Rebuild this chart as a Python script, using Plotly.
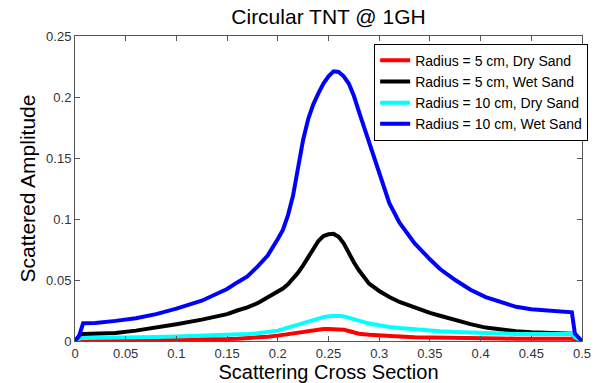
import plotly.graph_objects as go

# ---- data ----
x_vals = [0, 0.004, 0.008, 0.02, 0.04, 0.06, 0.08, 0.1, 0.125,
          0.15, 0.16, 0.17, 0.18, 0.19,
          0.2, 0.205, 0.21, 0.215, 0.22, 0.225, 0.23, 0.235, 0.24, 0.245,
          0.25, 0.255, 0.26, 0.265, 0.27, 0.275, 0.28, 0.29,
          0.3, 0.31, 0.32, 0.335, 0.35, 0.36, 0.375, 0.39,
          0.405, 0.42, 0.435, 0.45, 0.47, 0.49, 0.493, 0.497, 0.5]

r5_dry = [0, 0.0003, 0.0003, 0.0003, 0.0004, 0.0005, 0.0007, 0.0009, 0.0012,
          0.0016, 0.0019, 0.0022, 0.0028, 0.0035,
          0.0044, 0.005, 0.0058, 0.0066, 0.0073, 0.0079, 0.0085, 0.0091, 0.0096, 0.0098,
          0.0098, 0.0098, 0.0098, 0.0093, 0.0082, 0.0068, 0.006, 0.0052,
          0.0045, 0.004, 0.0036, 0.003, 0.0027, 0.0025, 0.0023, 0.0022,
          0.0021, 0.002, 0.0019, 0.0019, 0.0018, 0.0018, 0.001, 0.0003, 0]

r5_wet = [0, 0.004, 0.0057, 0.0057, 0.0065, 0.0085, 0.011, 0.0138, 0.0175,
          0.022, 0.025, 0.0275, 0.031, 0.036,
          0.041, 0.043, 0.0465, 0.051, 0.056, 0.062, 0.069, 0.076, 0.082, 0.086,
          0.0875, 0.0878, 0.0855, 0.080, 0.072, 0.0645, 0.058, 0.047,
          0.041, 0.036, 0.032, 0.0272, 0.023, 0.0207, 0.017, 0.0138,
          0.011, 0.0092, 0.008, 0.0072, 0.0065, 0.006, 0.003, 0.001, 0]

r10_dry = [0, 0.002, 0.0025, 0.0025, 0.0027, 0.003, 0.0033, 0.0037, 0.0042,
           0.0046, 0.005, 0.0057, 0.0063, 0.0072,
           0.0085, 0.0097, 0.011, 0.0122, 0.0135, 0.015, 0.0165, 0.0177, 0.0188, 0.0196,
           0.0202, 0.0206, 0.0206, 0.0202, 0.0193, 0.018, 0.0167, 0.0143,
           0.0125, 0.0115, 0.0106, 0.0095, 0.0086, 0.008, 0.0074, 0.0068,
           0.0064, 0.006, 0.0058, 0.0057, 0.0057, 0.0057, 0.003, 0.001, 0]

r10_wet = [0, 0.004, 0.0145, 0.0148, 0.0165, 0.0186, 0.022, 0.0265, 0.033,
           0.0426, 0.048, 0.053, 0.061, 0.070,
           0.0836, 0.091, 0.103, 0.119, 0.142, 0.165, 0.182, 0.194, 0.203, 0.211,
           0.217, 0.221, 0.2205, 0.217, 0.211, 0.201, 0.188, 0.163,
           0.136, 0.113, 0.097, 0.080, 0.067, 0.059, 0.050, 0.042,
           0.036, 0.032, 0.028, 0.026, 0.0245, 0.0235, 0.006, 0.002, 0]

series_names = ["Radius = 5 cm, Dry Sand", "Radius = 5 cm, Wet Sand",
                "Radius = 10 cm, Dry Sand", "Radius = 10 cm, Wet Sand"]
series_values = [r5_dry, r5_wet, r10_dry, r10_wet]
series_colors = ["#ff0000", "#000000", "#00ffff", "#0000ff"]

x_ticks = [0, 0.05, 0.1, 0.15, 0.2, 0.25, 0.3, 0.35, 0.4, 0.45, 0.5]
x_ticklabels = ["0", "0.05", "0.1", "0.15", "0.2", "0.25", "0.3", "0.35", "0.4", "0.45", "0.5"]
y_ticks = [0, 0.05, 0.1, 0.15, 0.2, 0.25]
y_ticklabels = ["0", "0.05", "0.1", "0.15", "0.2", "0.25"]

FONT = "Liberation Sans, Arial, sans-serif"

fig = go.Figure()
for name, vals, col in zip(series_names, series_values, series_colors):
    fig.add_trace(go.Scatter(x=x_vals, y=vals, mode="lines", name=name,
                             line=dict(color=col, width=4)))

axis_common = dict(
    showline=True, linecolor="#555555", linewidth=1, mirror="ticks",
    ticks="inside", ticklen=5, tickcolor="#555555", showgrid=False,
    zeroline=False, automargin=False,
    tickfont=dict(family=FONT, size=13, color="#333333"),
)

fig.update_layout(
    width=600, height=383,
    margin=dict(l=75, r=13, t=36, b=42),
    paper_bgcolor="white", plot_bgcolor="white",
    font=dict(family=FONT, color="black"),
    title=dict(text="Circular TNT @ 1GH", x=0.5, xref="paper", xanchor="center",
               y=1 - 17 / 383, yref="container", yanchor="middle",
               font=dict(family=FONT, size=21, color="black")),
    xaxis=dict(range=[0, 0.5], tickvals=x_ticks, ticktext=x_ticklabels,
               ticklabelstandoff=0,
               title=dict(text="Scattering Cross Section", standoff=0,
                          font=dict(family=FONT, size=20, color="black")),
               **axis_common),
    yaxis=dict(range=[0, 0.25], tickvals=y_ticks, ticktext=y_ticklabels,
               title=dict(text="Scattered Amplitude", standoff=4,
                          font=dict(family=FONT, size=21, color="black")),
               **axis_common),
    legend=dict(x=0.59, y=0.975, xanchor="left", yanchor="top",
                bgcolor="white", bordercolor="black", borderwidth=1,
                font=dict(family=FONT, size=14, color="black"),
                itemwidth=30, tracegroupgap=0),
    showlegend=True,
)

fig.write_html("out.html")
